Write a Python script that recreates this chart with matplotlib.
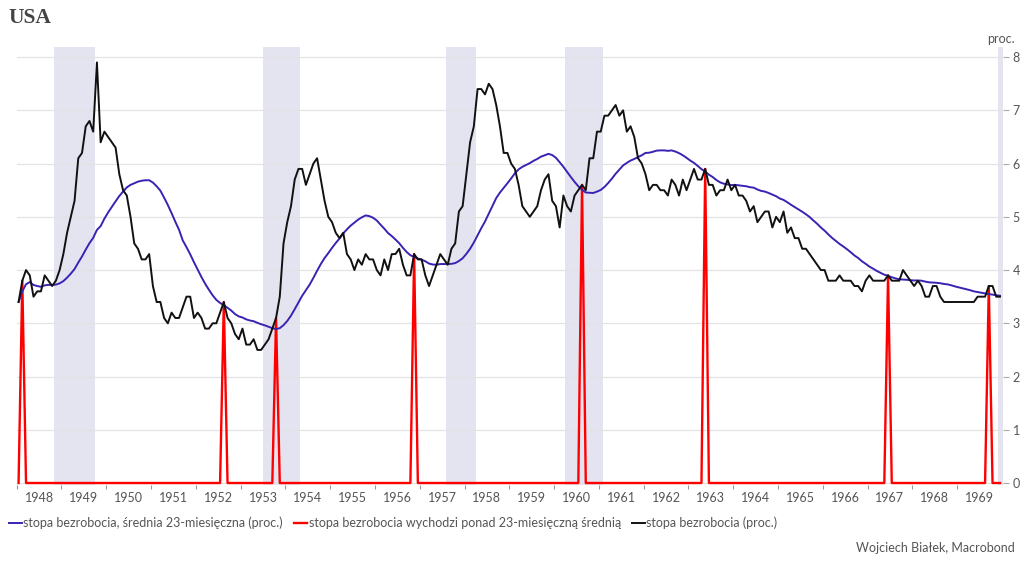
import numpy as np
import pandas as pd
from matplotlib import pyplot as plt
from matplotlib.ticker import FixedLocator, NullFormatter, FixedFormatter

# stopa bezrobocia USA, miesiecznie 1948-1969 (proc.)
unemp = [
    3.4, 3.8, 4.0, 3.9, 3.5, 3.6, 3.6, 3.9, 3.8, 3.7, 3.8, 4.0,  # 1948
    4.3, 4.7, 5.0, 5.3, 6.1, 6.2, 6.7, 6.8, 6.6, 7.9, 6.4, 6.6,  # 1949
    6.5, 6.4, 6.3, 5.8, 5.5, 5.4, 5.0, 4.5, 4.4, 4.2, 4.2, 4.3,  # 1950
    3.7, 3.4, 3.4, 3.1, 3.0, 3.2, 3.1, 3.1, 3.3, 3.5, 3.5, 3.1,  # 1951
    3.2, 3.1, 2.9, 2.9, 3.0, 3.0, 3.2, 3.4, 3.1, 3.0, 2.8, 2.7,  # 1952
    2.9, 2.6, 2.6, 2.7, 2.5, 2.5, 2.6, 2.7, 2.9, 3.1, 3.5, 4.5,  # 1953
    4.9, 5.2, 5.7, 5.9, 5.9, 5.6, 5.8, 6.0, 6.1, 5.7, 5.3, 5.0,  # 1954
    4.9, 4.7, 4.6, 4.7, 4.3, 4.2, 4.0, 4.2, 4.1, 4.3, 4.2, 4.2,  # 1955
    4.0, 3.9, 4.2, 4.0, 4.3, 4.3, 4.4, 4.1, 3.9, 3.9, 4.3, 4.2,  # 1956
    4.2, 3.9, 3.7, 3.9, 4.1, 4.3, 4.2, 4.1, 4.4, 4.5, 5.1, 5.2,  # 1957
    5.8, 6.4, 6.7, 7.4, 7.4, 7.3, 7.5, 7.4, 7.1, 6.7, 6.2, 6.2,  # 1958
    6.0, 5.9, 5.6, 5.2, 5.1, 5.0, 5.1, 5.2, 5.5, 5.7, 5.8, 5.3,  # 1959
    5.2, 4.8, 5.4, 5.2, 5.1, 5.4, 5.5, 5.6, 5.5, 6.1, 6.1, 6.6,  # 1960
    6.6, 6.9, 6.9, 7.0, 7.1, 6.9, 7.0, 6.6, 6.7, 6.5, 6.1, 6.0,  # 1961
    5.8, 5.5, 5.6, 5.6, 5.5, 5.5, 5.4, 5.7, 5.6, 5.4, 5.7, 5.5,  # 1962
    5.7, 5.9, 5.7, 5.7, 5.9, 5.6, 5.6, 5.4, 5.5, 5.5, 5.7, 5.5,  # 1963
    5.6, 5.4, 5.4, 5.3, 5.1, 5.2, 4.9, 5.0, 5.1, 5.1, 4.8, 5.0,  # 1964
    4.9, 5.1, 4.7, 4.8, 4.6, 4.6, 4.4, 4.4, 4.3, 4.2, 4.1, 4.0,  # 1965
    4.0, 3.8, 3.8, 3.8, 3.9, 3.8, 3.8, 3.8, 3.7, 3.7, 3.6, 3.8,  # 1966
    3.9, 3.8, 3.8, 3.8, 3.8, 3.9, 3.8, 3.8, 3.8, 4.0, 3.9, 3.8,  # 1967
    3.7, 3.8, 3.7, 3.5, 3.5, 3.7, 3.7, 3.5, 3.4, 3.4, 3.4, 3.4,  # 1968
    3.4, 3.4, 3.4, 3.4, 3.4, 3.5, 3.5, 3.5, 3.7, 3.7, 3.5, 3.5,  # 1969
]
start_year = 1948

# miesiace, w ktorych stopa wychodzi ponad srednia (czerwone piki)
spike_months = ['1948-02', '1952-08', '1953-10', '1956-11',
                '1960-08', '1963-05', '1967-06', '1969-09']
spike_values = [3.8, 3.4, 3.1, 4.3, 5.6, 5.9, 3.9, 3.7]

# recesje NBER (szczyt, dno)
recessions = [('1948-11', '1949-10'), ('1953-07', '1954-05'),
              ('1957-08', '1958-04'), ('1960-04', '1961-02'),
              ('1969-12', '1970-11')]

year_labels = [str(y) for y in range(1948, 1970)]
y_ticks = [0, 1, 2, 3, 4, 5, 6, 7, 8]


def dec(m):
    p = pd.Period(m, 'M')
    return p.year + (p.month - 1) / 12.0


n = len(unemp)
x = start_year + (np.arange(n) + 0.5) / 12.0
s = pd.Series(unemp)
avg23 = s.rolling(23, min_periods=1).mean()

red = np.zeros(n)
for m, v in zip(spike_months, spike_values):
    p = pd.Period(m, 'M')
    red[(p.year - start_year) * 12 + p.month - 1] = v

plt.rcParams['font.family'] = ['Lato', 'DejaVu Sans']

fig = plt.figure(figsize=(10.24, 5.65), dpi=100)
ax = fig.add_axes([16.7 / 1024, 1 - 484.6 / 565, (1003 - 16.7) / 1024, (484.6 - 47) / 565])

for a, b in recessions:
    ax.axvspan(dec(a), dec(b), color='#e4e4f1', lw=0, zorder=0)

for yv in y_ticks:
    ax.axhline(yv, color='#e3e3e3', lw=0.9, zorder=1)

ax.plot(x, red, color='#ff0000', lw=1.7, zorder=2,
        label='stopa bezrobocia wychodzi ponad 23-miesięczną średnią')
ax.plot(x, avg23, color='#3a22b4', lw=1.4, zorder=3,
        label='stopa bezrobocia, średnia 23-miesięczna (proc.)')
ax.plot(x, unemp, color='#111111', lw=1.4, zorder=4,
        label='stopa bezrobocia (proc.)')

ax.set_xlim(1948.0, 1948 + (1003 - 16.7) / 44.78)
ax.set_ylim(-0.03, 8.19)

for sp in ax.spines.values():
    sp.set_visible(False)

ax.xaxis.set_major_locator(FixedLocator(list(range(1948, 1970))))
ax.xaxis.set_major_formatter(NullFormatter())
ax.xaxis.set_minor_locator(FixedLocator([y + 0.5 for y in range(1948, 1970)]))
ax.xaxis.set_minor_formatter(FixedFormatter(year_labels))
ax.tick_params(axis='x', which='major', length=3, width=0.8, color='#999999', direction='out')
ax.tick_params(axis='x', which='minor', length=0, pad=5, labelsize=9, labelcolor='#555555')

ax.yaxis.tick_right()
ax.set_yticks(y_ticks)
ax.tick_params(axis='y', length=4, width=0.8, color='#aaaaaa', pad=3,
               labelsize=9, labelcolor='#555555')

fig.text(8 / 1024, 1 - 18 / 565, 'USA', family='Liberation Serif', weight='bold',
         fontsize=15.5, color='#444444', va='center', ha='left')
fig.text(1015 / 1024, 1 - 39 / 565, 'proc.', fontsize=9, color='#555555',
         ha='right', va='center')
fig.text(1015 / 1024, 1 - 548 / 565, 'Wojciech Białek, Macrobond', fontsize=9,
         color='#555555', ha='right', va='center')

h, l = ax.get_legend_handles_labels()
order = [1, 0, 2]
leg = fig.legend([h[i] for i in order], [l[i] for i in order], loc='center left',
                 bbox_to_anchor=(4 / 1024, 1 - 523 / 565), ncol=3, frameon=False,
                 fontsize=9, handlelength=1.0, handletextpad=0.15,
                 columnspacing=0.9, borderaxespad=0)
for t in leg.get_texts():
    t.set_color('#555555')

fig.savefig('out.png', dpi=100)
